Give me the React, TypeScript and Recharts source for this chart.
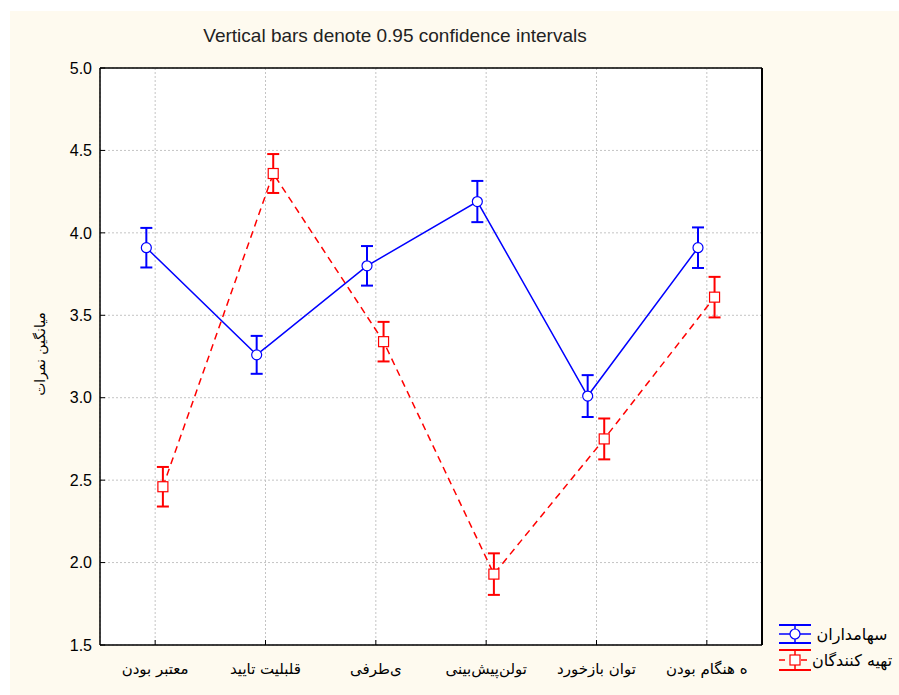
import React from 'react';
import { ComposedChart, Line, XAxis, YAxis, CartesianGrid, ErrorBar } from 'recharts';

// category labels as they appear on the x axis
const CATEGORIES = ['معتبر بودن', 'قلبلیت تایید', 'ی‌طرفی', 'تولن‌پیش‌بینی', 'توان بازخورد', 'ه هنگام بودن'];
const SERIES_NAMES = ['سهامداران', 'تهیه کنندگان'];

// means and 0.95 CI half-widths
const SHAREHOLDER_MEANS = [3.91, 3.26, 3.8, 4.19, 3.01, 3.91];
const SHAREHOLDER_CI = [0.12, 0.115, 0.12, 0.125, 0.127, 0.123];
const PREPARER_MEANS = [2.46, 4.36, 3.34, 1.93, 2.75, 3.61];
const PREPARER_CI = [0.12, 0.118, 0.12, 0.126, 0.124, 0.123];

const Y_TICKS = [1.5, 2.0, 2.5, 3.0, 3.5, 4.0, 4.5, 5.0];
const X_TICKS = CATEGORIES.map((_, i) => i);

// small horizontal nudge so the two series don't overlap
const BLUE_SHIFT = -0.08;
const RED_SHIFT = 0.07;

const BLUE = '#0000ff';
const RED = '#ff0000';
const BG = '#fefaef';
const FONT = '"Liberation Sans", Arial, "DejaVu Sans", sans-serif';
const AR_FONT = '"DejaVu Sans", sans-serif';

const blueData = SHAREHOLDER_MEANS.map((m, i) => ({ x: i + BLUE_SHIFT, y: m, err: SHAREHOLDER_CI[i] }));
const redData = PREPARER_MEANS.map((m, i) => ({ x: i + RED_SHIFT, y: m, err: PREPARER_CI[i] }));

function CircleDot(props: any) {
  const { cx, cy } = props;
  if (cx == null || cy == null) return null;
  return <circle cx={cx} cy={cy} r={5} fill="#fff" stroke={BLUE} strokeWidth={1.2} />;
}

function SquareDot(props: any) {
  const { cx, cy } = props;
  if (cx == null || cy == null) return null;
  return <rect x={cx - 5} y={cy - 5} width={10} height={10} fill="#fff" stroke={RED} strokeWidth={1.2} />;
}

// legend drawn in chart-container coordinates
function LegendItems() {
  return (
    <g>
      <g transform="translate(769,623)">
        <line x1={0} x2={32} y1={-9} y2={-9} stroke={BLUE} strokeWidth={2} />
        <line x1={0} x2={32} y1={0} y2={0} stroke={BLUE} strokeWidth={1.5} />
        <line x1={0} x2={32} y1={9} y2={9} stroke={BLUE} strokeWidth={2} />
        <line x1={16} x2={16} y1={-9} y2={9} stroke={BLUE} strokeWidth={1.5} />
        <circle cx={16} cy={0} r={5} fill="#fff" stroke={BLUE} strokeWidth={1.2} />
        <text x={73} y={0} textAnchor="middle" dominantBaseline="central" fontFamily={AR_FONT} fontSize={16} fill="#000">
          {SERIES_NAMES[0]}
        </text>
      </g>
      <g transform="translate(769,649)">
        <line x1={0} x2={32} y1={-10} y2={-10} stroke={RED} strokeWidth={2} />
        <line x1={0} x2={32} y1={0} y2={0} stroke={RED} strokeWidth={1.5} strokeDasharray="6 5" />
        <line x1={0} x2={32} y1={10} y2={10} stroke={RED} strokeWidth={2} />
        <line x1={16} x2={16} y1={-10} y2={10} stroke={RED} strokeWidth={1.5} />
        <rect x={11} y={-5} width={10} height={10} fill="#fff" stroke={RED} strokeWidth={1.2} />
        <text x={73} y={0} textAnchor="middle" dominantBaseline="central" fontFamily={AR_FONT} fontSize={16} fill="#000">
          {SERIES_NAMES[1]}
        </text>
      </g>
    </g>
  );
}

export default function App() {
  return (
    <div style={{ position: 'fixed', left: 10, top: 11, right: 0, bottom: 0, background: BG }}>
      <ComposedChart
        width={889}
        height={684}
        margin={{ top: 56, right: 136, bottom: 20, left: 30 }}
        style={{ fontFamily: FONT }}
      >
        <CartesianGrid stroke="#c4c4c4" strokeDasharray="2 2" fill="#fff" />
        <XAxis
          type="number"
          dataKey="x"
          domain={[-0.5, 5.5]}
          ticks={X_TICKS}
          interval={0}
          height={30}
          tickSize={-5}
          tickMargin={23}
          axisLine={{ stroke: '#000', strokeWidth: 1.5 }}
          tickLine={{ stroke: '#000' }}
          tick={{ fontSize: 15, fill: '#000', fontFamily: AR_FONT }}
          tickFormatter={(v: number) => CATEGORIES[v] ?? ''}
        />
        <XAxis
          xAxisId="top"
          orientation="top"
          type="number"
          dataKey="x"
          domain={[-0.5, 5.5]}
          ticks={X_TICKS}
          height={1}
          tickSize={-5}
          tickFormatter={() => ''}
          axisLine={{ stroke: '#000', strokeWidth: 1.5 }}
          tickLine={{ stroke: '#000' }}
        />
        <YAxis
          type="number"
          domain={[1.5, 5]}
          ticks={Y_TICKS}
          allowDataOverflow
          width={60}
          tickSize={-5}
          tickMargin={13}
          axisLine={{ stroke: '#000', strokeWidth: 1.5 }}
          tickLine={{ stroke: '#000' }}
          tick={{ fontSize: 16, fill: '#000', fontFamily: FONT }}
          tickFormatter={(v: number) => v.toFixed(1)}
        />
        <YAxis
          yAxisId="right"
          orientation="right"
          type="number"
          domain={[1.5, 5]}
          ticks={Y_TICKS}
          width={1}
          tickSize={-5}
          tickFormatter={() => ''}
          axisLine={{ stroke: '#000', strokeWidth: 2 }}
          tickLine={{ stroke: '#000' }}
        />
        <Line
          data={blueData}
          dataKey="y"
          name={SERIES_NAMES[0]}
          stroke={BLUE}
          strokeWidth={1.5}
          dot={(p: any) => <CircleDot key={`b${p.index}`} cx={p.cx} cy={p.cy} />}
          activeDot={false}
          isAnimationActive={false}
        >
          <ErrorBar dataKey="err" direction="y" width={6} stroke={BLUE} strokeWidth={2} />
        </Line>
        <Line
          data={redData}
          dataKey="y"
          name={SERIES_NAMES[1]}
          stroke={RED}
          strokeWidth={1.5}
          strokeDasharray="7 5"
          dot={(p: any) => <SquareDot key={`r${p.index}`} cx={p.cx} cy={p.cy} />}
          activeDot={false}
          isAnimationActive={false}
        >
          <ErrorBar dataKey="err" direction="y" width={6} stroke={RED} strokeWidth={2} />
        </Line>
      </ComposedChart>
      {/* title, y-axis caption and legend */}
      <svg width={889} height={684} style={{ position: 'absolute', left: 0, top: 0, pointerEvents: 'none' }}>
        <text x={385} y={31} textAnchor="middle" fontFamily={FONT} fontSize={19} fill="#222">
          Vertical bars denote 0.95 confidence intervals
        </text>
        <text
          x={30}
          y={343}
          textAnchor="middle"
          dominantBaseline="central"
          transform="rotate(-90 30 343)"
          fontFamily={AR_FONT}
          fontSize={14}
          fill="#000"
        >
          میانگین نمرات
        </text>
        <LegendItems />
      </svg>
    </div>
  );
}
